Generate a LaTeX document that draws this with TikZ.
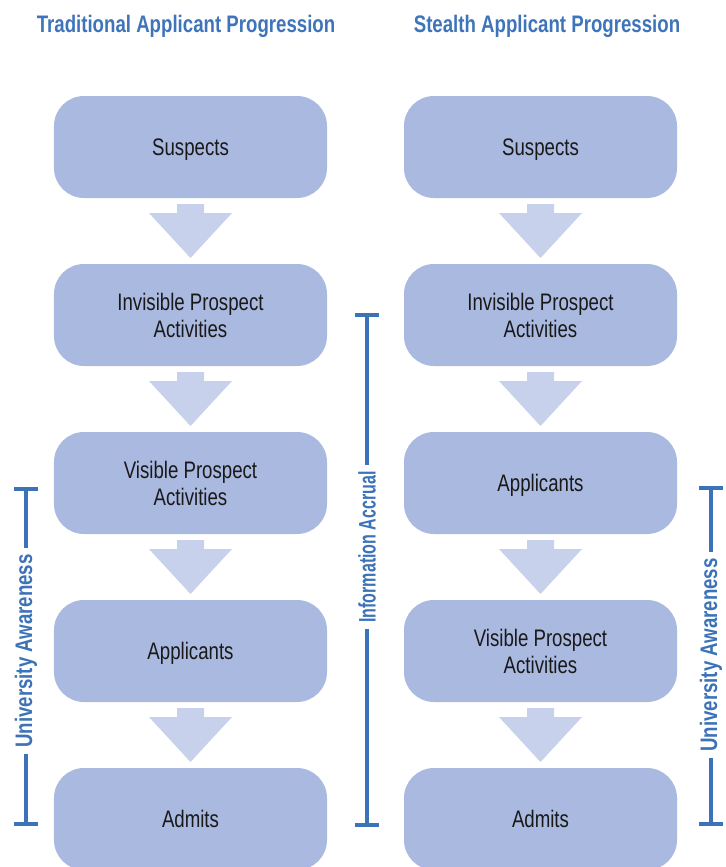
\documentclass[tikz,border=0pt]{standalone}
\usepackage{fontspec}
\setmainfont[FakeStretch=0.78]{Liberation Sans}
\newfontfamily\accrualfont[FakeStretch=0.67]{Liberation Sans}
\usetikzlibrary{arrows.meta}

\definecolor{boxfill}{HTML}{AAB9E0}
\definecolor{arrowfill}{HTML}{C7D1EB}
\definecolor{bracketblue}{HTML}{3B72B8}
\definecolor{titleblue}{HTML}{3E74BA}

\tikzset{
    stage/.style = {fill = boxfill, rounded corners = 30bp, minimum width = 273bp,
        minimum height = 102bp, outer sep = 0pt, align = center, text = black!90,
        text depth = 0pt, font = \fontsize{24}{27}\selectfont},
    heading/.style = {anchor = base, text = titleblue, font = \fontsize{24}{28}\selectfont\bfseries},
    spanlabel/.style = {rotate = 90, inner sep = 6bp, text = bracketblue,
        font = \fontsize{24}{28}\selectfont\bfseries},
    bracket/.style = {draw = bracketblue, line width = 4bp},
    downarrow/.pic = {
        \fill[arrowfill] (-13.5,-27) -- (13.5,-27) -- (13.5,-18) -- (41.5,-18)
            -- (0,27) -- (-41.5,-18) -- (-13.5,-18) -- cycle;
    }
}

\begin{document}
\begin{tikzpicture}[x = 1bp, y = -1bp]
            \useasboundingbox (0,0) rectangle (726,867);
            \clip (0,0) rectangle (726,867);

            % column headings
            \node[heading] (tradhead) at (186,32) {Traditional Applicant Progression};
            \node[heading] (stealthhead) at (547,32) {Stealth Applicant Progression};

            % traditional column
            \node[stage] (t1) at (190.5,147) {Suspects};
            \node[stage] (t2) at (190.5,315) {Invisible Prospect\\Activities};
            \node[stage] (t3) at (190.5,483) {Visible Prospect\\Activities};
            \node[stage] (t4) at (190.5,651) {Applicants};
            \node[stage] (t5) at (190.5,819) {Admits};

            % stealth column
            \node[stage] (s1) at (540.5,147) {Suspects};
            \node[stage] (s2) at (540.5,315) {Invisible Prospect\\Activities};
            \node[stage] (s3) at (540.5,483) {Applicants};
            \node[stage] (s4) at (540.5,651) {Visible Prospect\\Activities};
            \node[stage] (s5) at (540.5,819) {Admits};

            % block arrows between stages
            \path (t1.south) -- pic{downarrow} (t2.north);
            \path (t2.south) -- pic{downarrow} (t3.north);
            \path (t3.south) -- pic{downarrow} (t4.north);
            \path (t4.south) -- pic{downarrow} (t5.north);
            \path (s1.south) -- pic{downarrow} (s2.north);
            \path (s2.south) -- pic{downarrow} (s3.north);
            \path (s3.south) -- pic{downarrow} (s4.north);
            \path (s4.south) -- pic{downarrow} (s5.north);

            % spans on the sides
            \coordinate (ualtop) at (26,487);
            \coordinate (ualbot) at (26,826);
            \node[spanlabel] (ual) at (26,651) {University Awareness};
            \draw[bracket, {Bar[width=24bp,length=4bp]}-] (ualtop) -- (ual.east);
            \draw[bracket, -{Bar[width=24bp,length=4bp]}] (ual.west) -- (ualbot);

            \coordinate (iatop) at (367,313);
            \coordinate (iabot) at (367,827);
            \node[spanlabel, font = \fontsize{24}{28}\accrualfont\bfseries] (ia) at (367,547) {Information Accrual};
            \draw[bracket, {Bar[width=24bp,length=4bp]}-] (iatop) -- (ia.east);
            \draw[bracket, -{Bar[width=24bp,length=4bp]}] (ia.west) -- (iabot);

            \coordinate (uartop) at (711,486);
            \coordinate (uarbot) at (711,826);
            \node[spanlabel] (uar) at (711,655) {University Awareness};
            \draw[bracket, {Bar[width=24bp,length=4bp]}-] (uartop) -- (uar.east);
            \draw[bracket, -{Bar[width=24bp,length=4bp]}] (uar.west) -- (uarbot);
        \end{tikzpicture}
\end{document}
